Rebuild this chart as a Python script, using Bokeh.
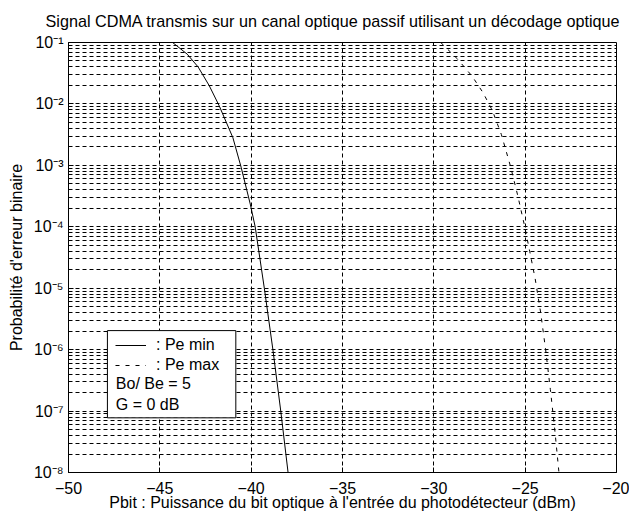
from bokeh.plotting import figure
from bokeh.models import (FixedTicker, CustomJSTickFormatter, Legend, LegendItem,
                          BoxAnnotation, Label, Title)
from bokeh.embed import file_html
from bokeh.resources import INLINE

# ---- data ----
pbit_min = [-44.30, -43.50, -42.90, -42.30, -41.75, -41.00, -40.55, -40.05, -39.78, -39.28, -38.81, -38.38, -37.98]
log_pe_min = [-1.00, -1.19, -1.40, -1.70, -2.03, -2.55, -3.03, -3.63, -4.00, -5.00, -6.00, -7.00, -8.00]

pbit_max = [-29.62, -28.70, -27.90, -27.30, -26.79, -26.30, -25.79, -25.40, -25.06, -24.75, -24.45, -24.15,
            -23.88, -23.62, -23.38, -23.15]
log_pe_max = [-1.00, -1.27, -1.55, -1.82, -2.11, -2.50, -3.03, -3.50, -3.95, -4.40, -4.85, -5.40,
              -6.00, -6.65, -7.30, -8.00]

pe_min = [10.0 ** v for v in log_pe_min]
pe_max = [10.0 ** v for v in log_pe_max]

x_ticks = [-50, -45, -40, -35, -30, -25, -20]
y_decades = [-8, -7, -6, -5, -4, -3, -2, -1]

legend_labels = [": Pe min", ": Pe max"]
info_lines = ["Bo/ Be = 5", "G = 0 dB"]

title_text = "Signal CDMA transmis sur un canal optique passif utilisant un décodage optique"
x_label = "Pbit : Puissance du bit optique à l'entrée du photodétecteur (dBm)"
y_label = "Probabilité d'erreur binaire"

FONT = "Liberation Sans"
FS = "16px"

p = figure(width=629, height=517, x_range=(-50, -20), y_range=(1e-8, 1e-1),
           y_axis_type="log", output_backend="svg", toolbar_location=None,
           min_border_left=68, min_border_right=13, min_border_top=42, min_border_bottom=45)
p.title = Title(text=title_text, align="left", text_font=FONT, text_font_size="16.2px",
                text_font_style="normal", text_color="black", offset=-23, standoff=22,
                vertical_align="top")
p.background_fill_color = "white"
p.border_fill_color = "white"
p.outline_line_color = "black"
p.outline_line_width = 1

yt = FixedTicker(ticks=[10.0**e for e in y_decades],
                 minor_ticks=[k * 10.0**e for e in y_decades[:-1] for k in range(2, 10)])
xt = FixedTicker(ticks=x_ticks)
p.xaxis.ticker = xt
p.yaxis.ticker = yt
p.xgrid.ticker = xt
p.ygrid.ticker = yt

p.yaxis.formatter = CustomJSTickFormatter(code="""
const sup = {'-':'\u207b','0':'\u2070','1':'\u00b9','2':'\u00b2','3':'\u00b3','4':'\u2074',
             '5':'\u2075','6':'\u2076','7':'\u2077','8':'\u2078','9':'\u2079'};
const e = Math.round(Math.log10(tick));
return '10' + String(e).split('').map(c => sup[c]).join('');
""")

for ax in (p.xaxis, p.yaxis):
    ax.axis_line_color = "black"
    ax.major_tick_line_color = "black"
    ax.minor_tick_line_color = "black"
    ax.major_tick_in = 5
    ax.major_tick_out = 0
    ax.minor_tick_in = 3
    ax.minor_tick_out = 0
    ax.major_label_text_font = FONT
    ax.major_label_text_font_size = FS
    ax.major_label_text_color = "black"
    ax.axis_label_text_font = FONT
    ax.axis_label_text_font_size = FS
    ax.axis_label_text_font_style = "normal"
    ax.axis_label_text_color = "black"
p.xaxis.axis_label = x_label
p.yaxis.axis_label = y_label
p.xaxis.major_label_standoff = 9
p.yaxis.major_label_standoff = 5
p.xaxis.axis_label_standoff = -3
p.yaxis.axis_label_standoff = 6

for g in (p.xgrid, p.ygrid):
    g.grid_line_color = "black"
    g.grid_line_dash = "4 3"
    g.grid_line_width = 1
    g.grid_line_alpha = 1
p.ygrid.minor_grid_line_color = "black"
p.ygrid.minor_grid_line_dash = "4 3"

r1 = p.line(pbit_min, pe_min, line_color="black", line_width=1)
r2 = p.line(pbit_max, pe_max, line_color="black", line_width=1, line_dash="4 6")

# legend box
box = BoxAnnotation(left=-47.87, right=-40.84, top=10**-5.69, bottom=10**-7.11,
                    fill_color="white", fill_alpha=1, line_color="black", line_width=1, line_alpha=1)
p.add_layout(box)

legend = Legend(items=[LegendItem(label=legend_labels[0], renderers=[r1]),
                       LegendItem(label=legend_labels[1], renderers=[r2])],
                location=(47, 97), border_line_color=None, background_fill_alpha=0,
                label_text_font=FONT, label_text_font_size=FS, label_text_color="black",
                glyph_width=31, glyph_height=20, label_height=20, label_standoff=10,
                spacing=0, padding=0, margin=0)
p.add_layout(legend)

for txt, ly in zip(info_lines, [-6.55, -6.89]):
    p.add_layout(Label(x=-47.41, y=10**ly, text=txt, text_font=FONT, text_font_size=FS,
                       text_color="black", text_baseline="middle"))

open("out.html", "w").write(file_html(p, INLINE))
